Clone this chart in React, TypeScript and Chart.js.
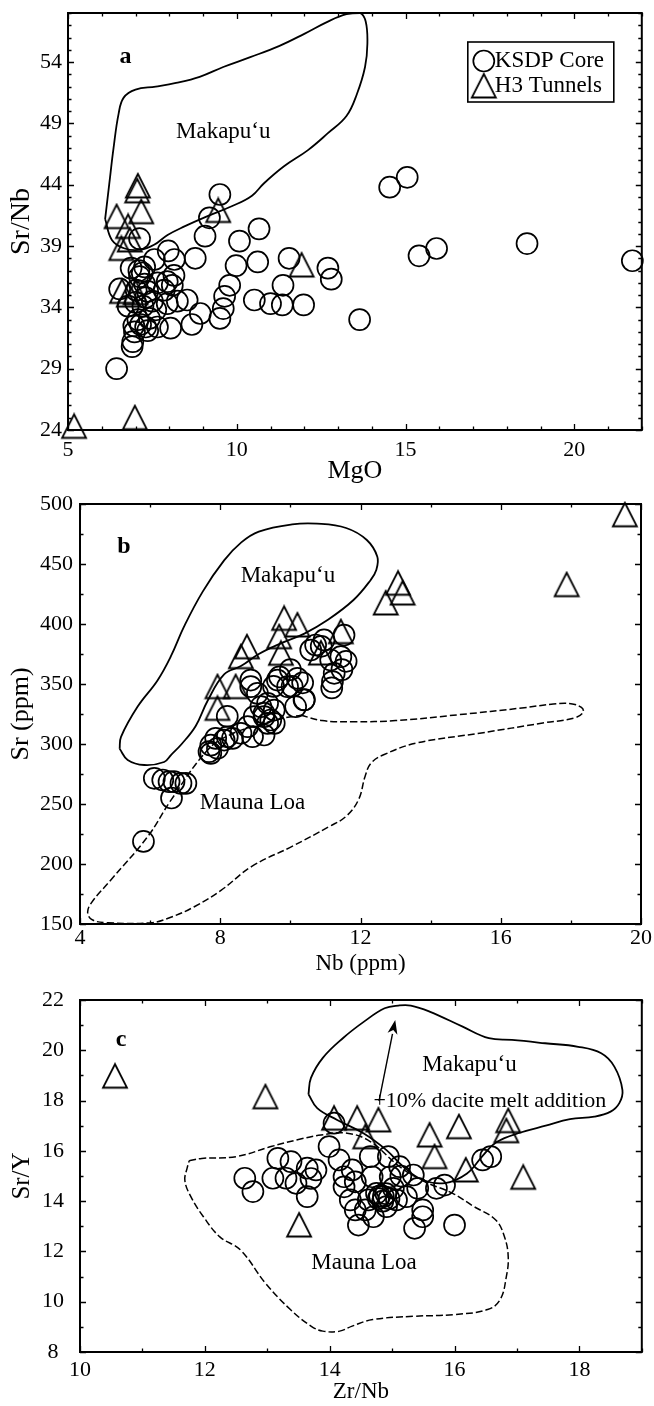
import { useEffect, useRef } from "react";
import { Chart, registerables } from "chart.js";

Chart.register(...registerables);

const FONT = '"Liberation Serif", "Times New Roman", Times, serif';

type Pt = [number, number];

// ---------- Panel a: MgO vs Sr/Nb ----------
const aXTicks = [5, 10, 15, 20];
const aYTicks = [24, 29, 34, 39, 44, 49, 54];
const aKsdp: Pt[] = [
  [6.44, 29.0], [6.9, 30.8], [6.92, 31.2], [7.12, 39.6], [9.5, 43.2], [9.19, 41.3], [9.06, 39.8],
  [8.77, 38.0], [10.08, 39.4], [9.98, 37.4], [10.66, 40.4], [10.62, 37.7], [10.52, 34.6], [9.79, 35.8],
  [9.64, 34.9], [9.6, 33.9], [9.5, 33.1], [8.92, 33.5], [8.67, 32.6], [8.53, 34.6], [8.24, 34.5],
  [7.97, 38.6], [8.15, 37.9], [8.14, 36.6], [8.09, 35.8], [7.94, 34.3], [8.04, 32.3], [7.56, 37.9],
  [7.65, 36.0], [7.6, 33.8], [7.65, 32.4], [7.36, 32.1], [6.97, 32.0], [6.87, 37.2], [7.27, 37.3],
  [6.53, 35.5], [6.78, 34.1], [7.12, 36.5], [7.02, 35.4], [7.36, 35.3], [7.22, 34.1], [7.07, 33.0],
  [7.41, 33.1], [7.0, 34.4], [7.27, 35.9], [7.85, 35.4], [7.94, 36.1], [7.1, 37.0], [7.2, 36.8],
  [7.3, 34.8], [7.15, 32.6], [7.3, 32.4], [6.95, 32.5], [7.5, 34.5], [14.53, 43.8], [15.05, 44.6],
  [15.4, 38.2], [15.92, 38.8], [18.6, 39.2], [21.72, 37.8], [13.64, 33.0], [12.7, 37.2], [12.8, 36.3],
  [11.55, 38.0], [11.37, 35.8], [11.35, 34.2], [11.98, 34.2], [11.0, 34.3],
];
const aH3: Pt[] = [
  [5.18, 24.3], [6.98, 25.0], [7.07, 43.9], [7.05, 43.5], [7.17, 41.8], [6.44, 41.4], [6.78, 40.6],
  [6.58, 38.8], [6.83, 39.5], [9.45, 41.9], [11.92, 37.45], [6.6, 35.3], [6.8, 35.0], [7.0, 35.2],
];
const aMakapuu: Pt[] = [
  [6.1, 41.2], [6.22, 44.0], [6.35, 47.0], [6.5, 49.8], [6.65, 51.1], [7.0, 51.75], [7.6, 52.0],
  [8.2, 52.3], [8.9, 52.8], [9.6, 53.6], [10.4, 54.4], [11.25, 55.3], [12.0, 56.3], [12.7, 57.3],
  [13.25, 57.9], [13.65, 58.0], [13.82, 57.3], [13.87, 55.5], [13.8, 53.6], [13.56, 51.4],
  [13.25, 49.6], [12.7, 48.2], [12.1, 46.8], [11.4, 45.5], [10.8, 44.1], [10.45, 43.1], [9.9, 42.3],
  [9.1, 41.4], [8.45, 40.6], [7.95, 39.9], [7.55, 39.1], [7.15, 38.7], [6.68, 38.8], [6.3, 39.5],
  [6.1, 41.2],
];

// ---------- Panel b: Nb vs Sr ----------
const bXTicks = [4, 8, 12, 16, 20];
const bYTicks = [150, 200, 250, 300, 350, 400, 450, 500];
const bKsdp: Pt[] = [
  [6.12, 271.4], [6.36, 270], [6.54, 268.6], [6.68, 268.6], [6.88, 267.2], [7.02, 267.2], [6.61, 255],
  [5.81, 218.8], [7.68, 293.6], [7.92, 296.4], [7.87, 304.7], [8.11, 303.3], [8.35, 304.7],
  [8.59, 308.9], [8.78, 314.4], [8.92, 306.1], [9.25, 307.5], [8.97, 322.8], [9.16, 331.1],
  [9.35, 333.9], [9.25, 322.8], [9.44, 320], [8.87, 347.8], [9.06, 342.2], [8.87, 353.3],
  [9.25, 325.6], [9.35, 317.2], [9.54, 328.3], [9.54, 317.2], [9.63, 353.3], [9.92, 347.8],
  [10.2, 354.7], [10.39, 336.7], [10.15, 331.1], [10.58, 378.3], [10.72, 382.5], [10.96, 386.7],
  [11.15, 370], [11.44, 372.8], [11.25, 358.9], [11.53, 390.8], [11.2, 352], [8.2, 306], [7.73, 299],
  [7.73, 292.2], [11.59, 368.9], [11.47, 362], [11.18, 346.7], [10.88, 381.4], [10.35, 351],
  [10.4, 337], [10.05, 348], [9.69, 356], [9.52, 348], [8.2, 323], [10.0, 362],
];
const bH3: Pt[] = [
  [19.54, 491], [17.88, 432.8], [13.07, 434], [13.2, 425.8], [12.72, 417.5], [9.82, 404.7],
  [10.2, 399.2], [9.68, 389.4], [9.73, 375.6], [8.76, 381], [8.59, 372.8], [8.44, 347.8],
  [7.92, 347.8], [7.92, 329.7], [11.44, 393.6], [10.87, 375.8],
];
const bMakapuu: Pt[] = [
  [5.13, 296], [5.17, 306], [5.64, 331], [6.21, 353], [6.59, 373], [6.97, 398], [7.5, 427],
  [8.11, 453], [8.6, 468], [9.1, 477], [10.05, 483], [10.76, 483.6], [11.59, 480], [12.18, 470],
  [12.48, 456], [12.45, 445], [12.29, 436.7], [11.8, 420], [11.06, 403.3], [10.4, 392], [9.73, 383.9],
  [9.1, 375], [8.59, 365], [8.11, 358], [7.64, 336], [7.3, 315], [6.9, 300], [6.6, 291], [6.4, 285],
  [5.83, 282.5], [5.36, 286.7], [5.13, 296],
];
const bMaunaLoa: Pt[] = [
  [10.3, 324], [10.9, 319.5], [11.8, 318.5], [13.0, 319.5], [14.8, 324.4], [16.6, 330], [17.5, 333.3],
  [18.0, 333.6], [18.3, 330.5], [18.35, 326.4], [18.1, 321.7], [17.2, 317.5], [15.4, 309],
  [13.6, 300.8], [12.66, 291], [12.3, 284], [12.13, 273], [11.95, 254], [11.6, 240], [11.12, 231.4],
  [10.05, 214.7], [8.9, 198], [8.02, 178], [7.26, 164.4], [6.59, 155.6], [6.02, 151], [4.79, 151],
  [4.36, 153.3], [4.22, 159], [4.31, 167], [4.88, 186.7], [5.93, 222.8], [6.59, 253], [7.64, 295],
  [8.3, 308], [9.1, 316], [9.8, 321.5], [10.3, 324],
];

// ---------- Panel c: Zr/Nb vs Sr/Y ----------
const cXTicks = [10, 12, 14, 16, 18];
const cYTicks = [8, 10, 12, 14, 16, 18, 20, 22];
const cKsdp: Pt[] = [
  [12.64, 14.91], [12.77, 14.38], [13.17, 15.7], [13.09, 14.91], [13.38, 15.57], [13.3, 14.91],
  [13.46, 14.71], [13.64, 15.31], [13.78, 15.24], [13.7, 14.9], [13.64, 14.18], [13.99, 16.17],
  [14.15, 15.64], [14.23, 14.97], [14.23, 14.57], [14.07, 17.1], [14.36, 15.24], [14.41, 14.77],
  [14.33, 14.05], [14.41, 13.65], [14.46, 13.05], [14.62, 14.05], [14.65, 15.77], [14.68, 14.97],
  [14.75, 14.31], [14.86, 14.18], [14.94, 15.77], [14.97, 14.97], [14.91, 13.78], [15.02, 14.51],
  [15.12, 15.37], [15.14, 15.0], [15.23, 14.18], [15.34, 15.04], [15.41, 14.51], [15.49, 13.65],
  [15.49, 13.38], [15.36, 12.92], [15.71, 14.51], [15.84, 14.64], [16.0, 13.05], [16.45, 15.64],
  [16.58, 15.77], [14.57, 13.65], [15.07, 14.05], [14.7, 13.38], [14.8, 14.2], [14.85, 14.0],
  [14.9, 14.3], [14.78, 14.1], [14.95, 14.1],
];
const cH3: Pt[] = [
  [10.56, 18.97], [12.97, 18.15], [13.51, 13.05], [14.07, 17.3], [14.44, 17.3], [14.78, 17.23],
  [14.57, 16.56], [15.6, 16.63], [15.68, 15.77], [16.07, 16.96], [16.18, 15.24], [16.86, 17.2],
  [16.83, 16.8], [17.1, 14.95],
];
const cMakapuu: Pt[] = [
  [13.66, 18.25], [13.7, 18.9], [13.89, 19.7], [14.22, 20.5], [14.55, 21.14], [14.88, 21.67],
  [15.1, 21.78], [15.3, 21.78], [15.6, 21.54], [16.13, 20.94], [16.55, 20.48], [16.92, 20.41],
  [17.45, 20.28], [17.98, 20.14], [18.35, 19.88], [18.56, 19.35], [18.69, 18.42], [18.64, 17.9],
  [18.5, 17.56], [18.24, 17.36], [17.85, 17.26], [17.46, 17.0], [17.06, 16.73], [16.67, 16.34],
  [16.45, 15.8], [16.2, 15.1], [15.85, 14.72], [15.49, 14.84], [15.18, 15.37], [14.91, 16.03],
  [14.54, 16.7], [14.12, 17.23], [13.8, 17.7], [13.66, 18.25],
];
const cMaunaLoa: Pt[] = [
  [11.75, 15.61], [11.95, 15.7], [12.5, 15.77], [13.06, 16.17], [13.5, 16.45], [13.86, 16.63],
  [14.28, 16.7], [14.65, 16.37], [15.12, 15.37], [15.5, 14.8], [15.97, 14.31], [16.3, 13.8],
  [16.66, 13.25], [16.8, 12.58], [16.86, 11.79], [16.83, 11.0], [16.73, 10.08], [16.53, 9.69],
  [16.0, 9.49], [15.35, 9.42], [14.69, 9.29], [14.36, 9.03], [14.16, 8.83], [13.89, 8.83],
  [13.7, 9.03], [13.37, 9.69], [12.97, 10.74], [12.57, 12.06], [12.24, 12.58], [11.98, 13.37],
  [11.78, 14.16], [11.68, 14.82], [11.72, 15.35], [11.75, 15.61],
];
const cDaciteArrow: Pt[] = [[14.79, 17.98], [15.05, 21.2]];

// ---------- drawing helpers ----------
function makeTriangle(): HTMLCanvasElement {
  const c = document.createElement("canvas");
  c.width = 28;
  c.height = 28;
  const g = c.getContext("2d")!;
  g.strokeStyle = "#000";
  g.lineWidth = 1.8;
  g.lineJoin = "miter";
  g.beginPath();
  g.moveTo(14, 2);
  g.lineTo(26, 25.5);
  g.lineTo(2, 25.5);
  g.closePath();
  g.stroke();
  return c;
}

const toXY = (pts: Pt[]) => pts.map(([x, y]) => ({ x, y }));

function markers(label: string, pts: Pt[], style: any) {
  return {
    label,
    data: toXY(pts),
    showLine: false,
    pointStyle: style,
    pointRadius: 10.5,
    pointHoverRadius: 10.5,
    pointBorderWidth: 1.7,
    pointBorderColor: "#000",
    pointBackgroundColor: "rgba(0,0,0,0)",
    clip: false,
  };
}

function outline(label: string, pts: Pt[], dashed: boolean) {
  return {
    label,
    data: toXY(pts),
    showLine: true,
    pointRadius: 0,
    borderColor: "#000",
    borderWidth: dashed ? 1.5 : 1.8,
    borderDash: dashed ? [7, 3] : [],
    tension: 0.4,
    fill: false,
  };
}

interface Note {
  text: string;
  x: number;
  y: number;
  size: number;
  bold?: boolean;
  align?: CanvasTextAlign;
}

interface PanelSpec {
  padding: { left: number; right: number; top: number; bottom: number };
  xMin: number; xMax: number; yMin: number; yMax: number;
  xTicks: number[]; yTicks: number[];
  xMinor: number; yMinor: number;
  xTitle: string; yTitle: string;
  xTitleSize: number; yTitleSize: number;
  yWidth: number; xHeight: number;
  xPad: number; yPad: number; yCross: "near" | "center";
  xTitlePad: number; yTitlePad: number;
  notes: Note[];
  datasets: any[];
  arrow?: Pt[];
  legend?: boolean;
}

function framePlugin(spec: PanelSpec) {
  return {
    id: "frame",
    beforeDatasetsDraw(chart: any) {
      const { ctx, chartArea } = chart;
      const { left, right, top, bottom } = chartArea;
      const xs = chart.scales.x;
      const ys = chart.scales.y;
      ctx.save();
      ctx.strokeStyle = "#000";
      ctx.lineWidth = 1.3;
      ctx.beginPath();
      const isMajor = (list: number[], v: number) => list.some((t) => Math.abs(t - v) < 1e-6);
      const nx = Math.round((spec.xMax - spec.xMin) / spec.xMinor);
      for (let i = 0; i <= nx; i++) {
        const v = spec.xMin + i * spec.xMinor;
        const len = isMajor(spec.xTicks, v) ? 6 : 3.5;
        const px = Math.round(xs.getPixelForValue(v)) + 0.5;
        ctx.moveTo(px, bottom);
        ctx.lineTo(px, bottom - len);
        ctx.moveTo(px, top);
        ctx.lineTo(px, top + len);
      }
      const ny = Math.round((spec.yMax - spec.yMin) / spec.yMinor);
      for (let i = 0; i <= ny; i++) {
        const v = spec.yMin + i * spec.yMinor;
        const len = isMajor(spec.yTicks, v) ? 6 : 3.5;
        const py = Math.round(ys.getPixelForValue(v)) + 0.5;
        ctx.moveTo(left, py);
        ctx.lineTo(left + len, py);
        ctx.moveTo(right, py);
        ctx.lineTo(right - len, py);
      }
      ctx.stroke();
      ctx.lineWidth = 2;
      ctx.strokeRect(left, top, right - left, bottom - top);
      ctx.restore();
    },
  };
}

function notesPlugin(spec: PanelSpec, tri: HTMLCanvasElement) {
  return {
    id: "notes",
    afterDatasetsDraw(chart: any) {
      const { ctx, chartArea } = chart;
      const xs = chart.scales.x;
      const ys = chart.scales.y;
      ctx.save();
      ctx.fillStyle = "#000";
      ctx.strokeStyle = "#000";
      ctx.textBaseline = "middle";
      for (const n of spec.notes) {
        ctx.font = `${n.bold ? "bold " : ""}${n.size}px ${FONT}`;
        ctx.textAlign = n.align || "center";
        ctx.fillText(n.text, xs.getPixelForValue(n.x), ys.getPixelForValue(n.y));
      }
      if (spec.arrow) {
        const [a, b] = spec.arrow;
        const x0 = xs.getPixelForValue(a[0]);
        const y0 = ys.getPixelForValue(a[1]);
        const x1 = xs.getPixelForValue(b[0]);
        const y1 = ys.getPixelForValue(b[1]);
        const ang = Math.atan2(y1 - y0, x1 - x0);
        const headLen = 14;
        const headHalf = 5;
        const bx = x1 - headLen * Math.cos(ang);
        const by = y1 - headLen * Math.sin(ang);
        ctx.lineWidth = 1.4;
        ctx.beginPath();
        ctx.moveTo(x0, y0);
        ctx.lineTo(bx, by);
        ctx.stroke();
        ctx.beginPath();
        ctx.moveTo(x1, y1);
        ctx.lineTo(bx + headHalf * Math.sin(ang), by - headHalf * Math.cos(ang));
        ctx.lineTo(x1 - (headLen - 4) * Math.cos(ang), y1 - (headLen - 4) * Math.sin(ang));
        ctx.lineTo(bx - headHalf * Math.sin(ang), by + headHalf * Math.cos(ang));
        ctx.closePath();
        ctx.fill();
      }
      if (spec.legend) {
        const bx = chartArea.right - 174;
        const by = chartArea.top + 29;
        const bw = 146;
        const bh = 60;
        ctx.lineWidth = 1.6;
        ctx.strokeRect(bx, by, bw, bh);
        ctx.beginPath();
        ctx.lineWidth = 1.7;
        ctx.arc(bx + 16, by + 19, 10.5, 0, Math.PI * 2);
        ctx.stroke();
        ctx.drawImage(tri, bx + 16 - 14, by + 44 - 14);
        ctx.font = `23px ${FONT}`;
        ctx.textAlign = "left";
        ctx.fillText("KSDP Core", bx + 27, by + 19);
        ctx.fillText("H3 Tunnels", bx + 27, by + 44);
      }
      ctx.restore();
    },
  };
}

function buildConfig(spec: PanelSpec, tri: HTMLCanvasElement): any {
  return {
    type: "scatter",
    data: { datasets: spec.datasets },
    plugins: [framePlugin(spec), notesPlugin(spec, tri)],
    options: {
      responsive: false,
      animation: false,
      devicePixelRatio: 1,
      events: [],
      layout: { padding: spec.padding },
      plugins: { legend: { display: false }, tooltip: { enabled: false } },
      scales: {
        x: {
          type: "linear",
          min: spec.xMin,
          max: spec.xMax,
          afterBuildTicks: (s: any) => {
            s.ticks = spec.xTicks.map((v) => ({ value: v }));
          },
          afterFit: (s: any) => {
            s.height = spec.xHeight;
            s.paddingLeft = 0;
            s.paddingRight = 0;
          },
          grid: { display: false, drawTicks: false },
          border: { display: false },
          ticks: {
            color: "#000",
            font: { family: FONT, size: 22 },
            padding: spec.xPad,
            maxRotation: 0,
            autoSkip: false,
          },
          title: {
            display: true,
            text: spec.xTitle,
            color: "#000",
            font: { family: FONT, size: spec.xTitleSize },
            padding: { top: 0, bottom: spec.xTitlePad },
          },
        },
        y: {
          type: "linear",
          min: spec.yMin,
          max: spec.yMax,
          afterBuildTicks: (s: any) => {
            s.ticks = spec.yTicks.map((v) => ({ value: v }));
          },
          afterFit: (s: any) => {
            s.width = spec.yWidth;
            s.paddingTop = 0;
            s.paddingBottom = 0;
          },
          grid: { display: false, drawTicks: false },
          border: { display: false },
          ticks: {
            color: "#000",
            font: { family: FONT, size: 22 },
            padding: spec.yPad,
            crossAlign: spec.yCross,
            autoSkip: false,
          },
          title: {
            display: true,
            text: spec.yTitle,
            color: "#000",
            font: { family: FONT, size: spec.yTitleSize },
            padding: { top: spec.yTitlePad, bottom: 0 },
          },
        },
      },
    },
  };
}

function panelA(tri: HTMLCanvasElement): PanelSpec {
  return {
    padding: { left: 0, right: 2, top: 13, bottom: 0 },
    xMin: 5, xMax: 22, yMin: 24, yMax: 58,
    xTicks: aXTicks, yTicks: aYTicks, xMinor: 1, yMinor: 1,
    xTitle: "MgO", yTitle: "Sr/Nb", xTitleSize: 26, yTitleSize: 28,
    yWidth: 68, xHeight: 60, xPad: 6.8, yPad: 6, yCross: "near",
    xTitlePad: 3.5, yTitlePad: 5,
    notes: [
      { text: "a", x: 6.7, y: 54.4, size: 24, bold: true },
      { text: "Makapu\u2018u", x: 9.6, y: 48.3, size: 23 },
    ],
    datasets: [
      markers("KSDP Core", aKsdp, "circle"),
      markers("H3 Tunnels", aH3, tri),
      outline("Makapu\u2018u", aMakapuu, false),
    ],
    legend: true,
  };
}

function panelB(tri: HTMLCanvasElement): PanelSpec {
  return {
    padding: { left: 0, right: 13, top: 14, bottom: 0 },
    xMin: 4, xMax: 20, yMin: 150, yMax: 500,
    xTicks: bXTicks, yTicks: bYTicks, xMinor: 2, yMinor: 25,
    xTitle: "Nb (ppm)", yTitle: "Sr (ppm)", xTitleSize: 23, yTitleSize: 26,
    yWidth: 80, xHeight: 56, xPad: 1, yPad: 7, yCross: "near",
    xTitlePad: 2, yTitlePad: 6,
    notes: [
      { text: "b", x: 5.25, y: 464.7, size: 24, bold: true },
      { text: "Makapu\u2018u", x: 9.93, y: 439.7, size: 23 },
      { text: "Mauna Loa", x: 8.92, y: 250.8, size: 23 },
    ],
    datasets: [
      markers("KSDP Core", bKsdp, "circle"),
      markers("H3 Tunnels", bH3, tri),
      outline("Makapu\u2018u", bMakapuu, false),
      outline("Mauna Loa", bMaunaLoa, true),
    ],
  };
}

function panelC(tri: HTMLCanvasElement): PanelSpec {
  return {
    padding: { left: 0, right: 6, top: 20, bottom: 0 },
    xMin: 10, xMax: 19, yMin: 8, yMax: 22,
    xTicks: cXTicks, yTicks: cYTicks, xMinor: 1, yMinor: 1,
    xTitle: "Zr/Nb", yTitle: "Sr/Y", xTitleSize: 23, yTitleSize: 25,
    yWidth: 80, xHeight: 54, xPad: 4.8, yPad: 16, yCross: "center",
    xTitlePad: 0, yTitlePad: 7,
    notes: [
      { text: "c", x: 10.66, y: 20.42, size: 24, bold: true },
      { text: "Makapu\u2018u", x: 16.24, y: 19.43, size: 23 },
      { text: "Mauna Loa", x: 14.55, y: 11.53, size: 23 },
      { text: "+10% dacite melt addition", x: 14.7, y: 17.98, size: 22, align: "left" },
    ],
    datasets: [
      markers("KSDP Core", cKsdp, "circle"),
      markers("H3 Tunnels", cH3, tri),
      outline("Makapu\u2018u", cMakapuu, false),
      outline("Mauna Loa", cMaunaLoa, true),
    ],
    arrow: cDaciteArrow,
  };
}

function Panel({ top, height, make }: { top: number; height: number; make: (t: HTMLCanvasElement) => PanelSpec }) {
  const ref = useRef<HTMLCanvasElement>(null);
  useEffect(() => {
    const tri = makeTriangle();
    const chart = new Chart(ref.current!, buildConfig(make(tri), tri));
    return () => chart.destroy();
  }, [make]);
  return (
    <canvas
      ref={ref}
      width={654}
      height={height}
      style={{ position: "absolute", left: 0, top, width: 654, height, display: "block" }}
    />
  );
}

export default function App() {
  return (
    <div style={{ position: "absolute", left: 0, top: 0, width: 654, height: 1406, background: "#fff" }}>
      <Panel top={0} height={490} make={panelA} />
      <Panel top={490} height={490} make={panelB} />
      <Panel top={980} height={426} make={panelC} />
    </div>
  );
}
